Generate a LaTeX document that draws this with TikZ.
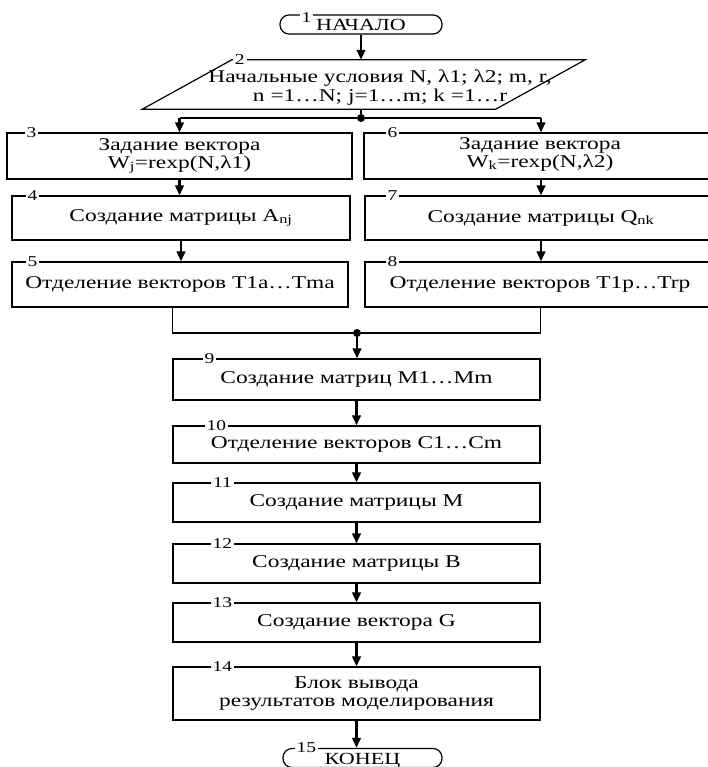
\documentclass[tikz,border=0pt]{standalone}
\usepackage{fontspec}
\setmainfont{Liberation Serif}[FakeStretch=1.3]
\usetikzlibrary{arrows.meta,positioning}

\begin{document}
\begin{tikzpicture}[x=1pt,y=-1pt,
	blk/.style = {draw,line width=1.2pt,inner sep=0pt,align=center,font=\fontsize{18}{18}\selectfont},
	txt/.style = {inner sep=0pt,align=center,font=\fontsize{18}{18}\selectfont},
	term/.style = {draw,line width=1.2pt,rounded corners=9pt,inner sep=0pt,text height=13pt,text depth=0pt,font=\fontsize{17}{17}\selectfont},
	num/.style = {fill=white,inner sep=2pt,font=\fontsize{15}{15}\selectfont},
	dot/.style = {fill,circle,inner sep=0pt,minimum size=8pt},
	flow/.style = {-{Triangle[length=10pt,width=8.5pt]},line width=2.4pt},
	link/.style = {line width=1.2pt}
	]
	\useasboundingbox (0,0) rectangle (707,767);
	%\draw [help lines,step=50] (0,0) grid (707,767);
	%НАЧАЛО
	\node[term,minimum width=162pt,minimum height=19pt] (@1) at (361,24.5) {НАЧАЛО};
	\node[num] (@n1) at ([xshift=27pt,yshift=-3pt]@1.north west) {1};
	%ВВОД
	\node[inner sep=0pt,minimum width=353pt,minimum height=49pt] (@2) at (380,84.5) {};
	\draw[link] ([xshift=28.5pt]@2.north west) -- ([xshift=28.5pt]@2.north east)
		-- ([xshift=-61pt]@2.south east) -- ([xshift=-61pt]@2.south west) -- cycle;
	\node[txt,font=\fontsize{18}{19}\selectfont] (@2t) at (380,88) {Начальные условия N, λ1; λ2; m, r,\\n =1…N; j=1…m; k =1…r};
	\node[num] (@n2) at ([xshift=36.5pt]@2.north west) {2};
	\draw[flow] (@1.south) -- (@1.south |- @2.north);
	%Левая ветвь
	\node[blk,minimum width=345pt,minimum height=46pt] (@3) at (179.5,156) {Задание вектора\\W\textsubscript{j}=rexp(N,λ1)};
	\node[blk,minimum width=338pt,minimum height=44pt] (@4) at (181,218) {Создание матрицы A\textsubscript{nj}};
	\node[blk,minimum width=336pt,minimum height=45pt] (@5) at (180,284.5) {Отделение векторов T1a…Tma};
	\node[num] (@n3) at ([xshift=25pt]@3.north west) {3};
	\node[num] (@n4) at ([xshift=21pt]@4.north west) {4};
	\node[num] (@n5) at ([xshift=21pt]@5.north west) {5};
	%Правая ветвь (уходит за край)
	\node[blk,minimum width=380pt,minimum height=46pt] (@6) at (554,156) {};
	\node[blk,minimum width=380pt,minimum height=44pt] (@7) at (555,218) {};
	\node[blk,minimum width=380pt,minimum height=45pt] (@8) at (555,284.5) {};
	\node[txt] (@6t) at (540,154) {Задание вектора\\W\textsubscript{k}=rexp(N,λ2)};
	\node[txt] (@7t) at (541,218) {Создание матрицы Q\textsubscript{nk}};
	\node[txt] (@8t) at (540,284.5) {Отделение векторов T1p…Trp};
	\node[num] (@n6) at ([xshift=29pt]@6.north west) {6};
	\node[num] (@n7) at ([xshift=28pt]@7.north west) {7};
	\node[num] (@n8) at ([xshift=28pt]@8.north west) {8};
	%Разветвление
	\node[dot] (@j1) at (361,118) {};
	\coordinate (@a6) at (541,118);
	\draw[link] (@j1) -- (@j1 |- @2.south);
	\draw[link] (@j1) -- (@j1 -| @3.north);
	\draw[link] (@j1) -- (@a6);
	\draw[flow] (@j1 -| @3.north) -- (@3.north);
	\draw[flow] (@a6) -- (@a6 |- @6.north);
	\draw[flow] (@3.south) -- (@3.south |- @4.north);
	\draw[flow] (@4.south) -- (@4.south |- @5.north);
	\draw[flow] (@a6 |- @6.south) -- (@a6 |- @7.north);
	\draw[flow] (@a6 |- @7.south) -- (@a6 |- @8.north);
	%Общая часть
	\node[blk,minimum width=367pt,minimum height=41pt] (@9) at (356.5,379.5) {Создание матриц M1…Mm};
	\node[blk,minimum width=367pt,minimum height=37pt] (@10) at (356.5,444.5) {Отделение векторов C1…Cm};
	\node[blk,minimum width=367pt,minimum height=39pt] (@11) at (356.5,502.5) {Создание матрицы M};
	\node[blk,minimum width=367pt,minimum height=39pt] (@12) at (356.5,563.5) {Создание матрицы B};
	\node[blk,minimum width=367pt,minimum height=39pt] (@13) at (356.5,622.5) {Создание вектора G};
	\node[blk,minimum width=367pt,minimum height=53pt] (@14) at (356.5,693.5) {Блок вывода\\результатов моделирования};
	\node[num] (@n9) at ([xshift=37pt]@9.north west) {9};
	\node[num] (@n10) at ([xshift=44pt]@10.north west) {10};
	\node[num] (@n11) at ([xshift=50pt]@11.north west) {11};
	\node[num] (@n12) at ([xshift=50pt]@12.north west) {12};
	\node[num] (@n13) at ([xshift=50pt]@13.north west) {13};
	\node[num] (@n14) at ([xshift=50pt]@14.north west) {14};
	%КОНЕЦ
	\node[term,minimum width=159pt,minimum height=19pt] (@15) at (362.5,758) {КОНЕЦ};
	\node[num] (@n15) at ([xshift=24pt]@15.north west) {15};
	%Слияние
	\node[dot] (@j2) at (357,333) {};
	\draw[link] (@5.south -| @9.west) |- (@j2) -| (@8.south -| @9.east);
	\draw[flow] (@j2) -- (@j2 |- @9.north);
	\draw[flow] (@9.south) -- (@9.south |- @10.north);
	\draw[flow] (@10.south) -- (@10.south |- @11.north);
	\draw[flow] (@11.south) -- (@11.south |- @12.north);
	\draw[flow] (@12.south) -- (@12.south |- @13.north);
	\draw[flow] (@13.south) -- (@13.south |- @14.north);
	\draw[flow] (@14.south) -- (@14.south |- @15.north);
\end{tikzpicture}
\end{document}
